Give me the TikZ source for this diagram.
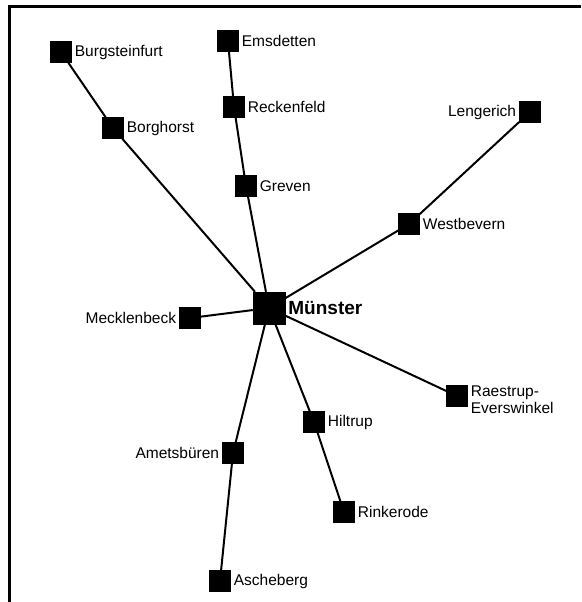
\documentclass[tikz,border=0pt]{standalone}
\usepackage{fontspec}
\setmainfont{Liberation Sans}
\usepackage{tikz}
\usetikzlibrary{positioning}

\begin{document}
\begin{tikzpicture}[x=1pt, y=-1pt,
    town/.style={rectangle, draw, fill=black, minimum size=21pt, inner sep=0pt},
    hub/.style={rectangle, draw, fill=black, minimum size=32pt, inner sep=0pt},
    every label/.style={font=\fontsize{15.5}{17}\selectfont, inner sep=2pt, label distance=1pt},
    road/.style={line width=2pt}
]
\useasboundingbox (0,0) rectangle (581,602);

% Frame
\draw[line width=3pt] (9,602) -- (9,7) -- (581,7);

% Centre
\node[hub, label={[font=\fontsize{19}{21}\selectfont\bfseries]right:Münster}] (muenster) at (269,308) {};

% North-west
\node[town, label=right:Burgsteinfurt] (burg) at (61,52) {};
\node[town, label=right:Borghorst] (borg) at (113,128) {};
\draw[road] (burg) -- (borg);
\draw[road] (borg) -- (muenster);

% North
\node[town, label=right:Emsdetten] (ems) at (228,41) {};
\node[town, label=right:Reckenfeld] (reck) at (234,107) {};
\node[town, label=right:Greven] (greven) at (246,186) {};
\draw[road] (ems) -- (reck);
\draw[road] (reck) -- (greven);
\draw[road] (greven) -- (muenster);

% North-east
\node[town, label=left:Lengerich] (leng) at (530,112) {};
\node[town, label=right:Westbevern] (westb) at (409,224) {};
\draw[road] (leng) -- (westb);
\draw[road] (westb) -- (muenster);

% West
\node[town, label=left:Mecklenbeck] (meck) at (190,318) {};
\draw[road] (meck) -- (muenster);

% East
\node[town, label={[align=left, yshift=-4pt]right:Raestrup-\\Everswinkel}] (raes) at (457,396) {};
\draw[road] (raes) -- (muenster);

% South-east
\node[town, label=right:Hiltrup] (hilt) at (314,422) {};
\node[town, label=right:Rinkerode] (rink) at (344,512) {};
\draw[road] (hilt) -- (muenster);
\draw[road] (hilt) -- (rink);

% South
\node[town, label=left:Ametsbüren] (amel) at (233,453) {};
\node[town, label=right:Ascheberg] (asch) at (220,581) {};
\draw[road] (amel) -- (muenster);
\draw[road] (amel) -- (asch);

\end{tikzpicture}
\end{document}
